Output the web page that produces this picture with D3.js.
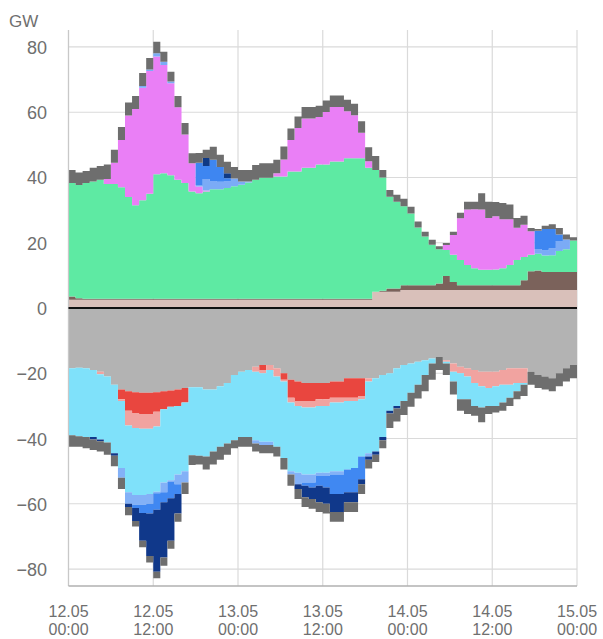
<!DOCTYPE html>
<html><head><meta charset="utf-8">
<script src="https://cdn.jsdelivr.net/npm/d3@7"></script>
<style>
html,body{margin:0;padding:0;background:#fff;}
svg{display:block;font-family:"Liberation Sans",Arial,Helvetica,sans-serif;}
</style></head>
<body>
<svg id="c" width="603" height="639"></svg>
<script>
// ---- data (GW, hourly, 12.05 00:00 .. 14.05 23:00) ----
const hours = d3.range(72);
const tickHours = [0, 12, 24, 36, 48, 60, 72];
const tickDates = ["12.05", "12.05", "13.05", "13.05", "14.05", "14.05", "15.05"];
const tickTimes = ["00:00", "12:00", "00:00", "12:00", "00:00", "12:00", "00:00"];
const yTicks = [-80, -60, -40, -20, 0, 20, 40, 60, 80];

// positive (generation) layers
const rose = [2.5,2.5,2.5,2.5,2.5,2.5,2.5,2.5,2.5,2.5,2.5,2.5,2.5,2.5,2.5,2.5,2.5,2.5,2.5,2.5,2.5,2.5,2.5,2.5,2.5,2.5,2.5,2.5,2.5,2.5,2.5,2.5,2.5,2.5,2.5,2.5,2.5,2.5,2.5,2.5,2.5,2.5,2.5,5,5,5,5,5.5,5.5,5.5,5.5,5.5,5.5,5.5,5.5,5.5,5.5,5.5,5.5,5.5,5.5,5.5,5.5,5.5,5.5,5.5,5.5,5.5,5.5,5.5,5.5,5.5];
const brown = [1,0.5,0.3,0.3,0.3,0.3,0.3,0.3,0.3,0.3,0.3,0.3,0.3,0.3,0.3,0.3,0.3,0.3,0.3,0.3,0.3,0.3,0.3,0.3,0.3,0.3,0.3,0.3,0.3,0.3,0.3,0.3,0.3,0.3,0.3,0.3,0.3,0.3,0.3,0.3,0.3,0.3,0.3,0,0.3,1,1,1.5,1.5,1.5,1.5,1.5,2,4.3,2.5,1.5,1.5,1.5,1.5,1.5,1.5,1.5,1.5,1.5,3,5.8,6,5.5,5.5,5.5,5.5,5.5];
const green = [34.8,34.7,35.5,36,36.5,35.2,35.2,34.2,31.2,28.7,30.2,32.2,38.2,38.5,37.9,36.5,35.5,32.9,32.4,32.9,33.6,33.6,34,34.5,35,35.7,36.5,37.1,37.1,37.5,37.5,39,39,40.2,40.2,41.2,41.2,42.1,42.1,43.1,43.1,43.1,40.2,37.3,34.7,28.1,26.6,24.2,22,17.7,14.9,12.4,10.5,8,8.3,7.7,6.2,5.2,4.7,4.7,4.8,5.2,6.2,7.7,7.1,5,5.1,5.1,5.2,6.5,7,9.7];
const solar = [0,0,0,0,0,1.5,6.5,14.5,25,29.5,34.5,37.6,36.1,33.2,28.2,22.2,14.9,8.7,2,0.3,0,0,0,0,0,0,0,0,0,1,5.2,9.7,13.4,15.1,15.1,14.5,16.1,16.7,16.7,14.4,13.2,7.8,2,0,0,0,0,0,0,0,0,0,0,1.5,6.1,12.8,17,18.1,18.5,15.9,16.3,15,14,9.9,9.9,7.2,0,0,0,0,0,0];
const lightBlueP = [0,0,0,0,0,0,0,0,0,0,0.5,0.5,1,1,0.5,0,0,0,0.5,3.5,2.5,2.3,2,2.4,1,0.3,0,0,0,0,0,0,0,0,0,0,0,0,0,0,0,0,0,0,0,0,0,0,0,0,0,0,0,0,0,0,0,0,0,0,0,0,0,0,0,0,1.5,1.5,2,3,3,0];
const blueP = [0,0,0,0,0,0,0,0,0,0,0,0,0,0,0,0,0,0,6.8,4,6.5,4.5,1,0,0,0,0,0,0,0,0,0,0,0,0,0,0,0,0,0,0,0,0,0,0,0,0,0,0,0,0,0,0,0,0,0,0,0,0,0,0,0,0,0,0,0,5.6,6.6,6,2,0,0];
const navyP = [0,0,0,0,0,0,0,0,0,0,0,0,0,0,0,0,0,0,0,2.5,0,0,1.5,0,0,0,0,0,0,0,0,0,0,0,0,0,0,0,0,0,0,0,0,0,0,0,0,0,0,0,0,0,0,0,0,0,0,0,0,0,0,0,0,0,0,0,0,0,0,0,0,0];
const otherP = [4,3.8,3.7,4.2,4.2,4.5,4,4,4,4,4,3.5,3.5,3,3,3.5,3.5,3,3,2.5,4,3.8,3.5,3.5,3.5,3.5,4.5,4.5,4.5,4.1,4,3.5,3.5,3.5,3.5,3.5,3.5,3.5,3.5,3.5,3.5,3.5,4.3,4.3,2.3,2.1,2.1,2.3,2,1.8,1.5,1.5,0.9,0.6,1,1.7,2.4,2.3,5,5,4.4,5,4.5,3,2.8,1,0.5,1,1.5,2,1.5,1];

// negative (consumption / export) layers, as magnitudes
const greyN = [18.5,18.3,18.5,19,19.5,21,23.5,25,25.5,25.8,26,26,25.8,25.5,25.3,25,24.5,24.3,24.3,25,25,24,23,20.5,19.5,19,18,17.5,17.5,18.5,20,22,22.5,23,23,23,23,22.5,22.5,21.5,21.5,21.5,21.5,21.5,20.5,20,18.5,17.5,17,16.5,16,15.5,15,16,17,18,18.5,19,19.5,19.5,19.5,19,18.5,18.5,18.5,19.5,20.5,21,21.5,20,18.5,17.5];
const redN = [0,0,0,0,0,0,0,3,6,6.5,6.5,6.5,6,5.5,5,5,4.5,0,0,0,0,0,0,0,0,0,0,1.5,0,0,2,5.5,6,5.5,5.5,5,5,5,5,6,6,5.5,0,0,0,0,0,0,0,0,0,0,0,0,0,0,0,0,0,0,0,0,0,0,0,0,0,0,0,0,0,0];
const pinkN = [0,0,0,0,0.8,0,0,0.5,4.5,4.5,4.5,4.5,4.5,0,0,0,0,0,0,0,0,0,0,0,0,0,1.5,1,1.5,2.5,0.5,1.5,1.5,2,2,2,2,1.5,1.5,1,1,1,1,0,0,0,0,0,0,0,0,0,0,0.5,2.5,2,2.5,4,4.5,5,4.5,4.5,5,4.5,4.5,0,0,0,0,0,0,0];
const cyanN = [20.5,21,21,20.5,20,20.2,21,20.5,20.5,20.5,20.3,20,20,22.5,22.5,21,21,20.8,21,20.5,19,18.5,18.5,20,20,20.5,21,21,22,21.5,23.5,21,20.5,20.5,20.5,20.5,20.5,21,21,21,20.5,17.5,22,22.5,19,11.5,11.5,11,9,7,4.5,1.5,0,0.5,3,8,7,7,6.5,5.5,6,5.5,4,2.5,0.5,0,0,0,0,0,0,0];
const lightBlueN = [0,0,0,0,0,0,0,3,3.5,3,3,3,0.5,3,0.5,3,3.5,0,0,0,0,0,0,0,0,0,1,1,1,0,0,1,3.5,2.5,2.5,1,1,1,1,0,0,0,1,0,0,0,0,0,0,0,0,0,0,0,0,0,0,0,0,0,0,0,0,0,0,0,0,0,0,0,0,0];
const blueN = [0,0,0,0,0,0,0,0,0,1,2.5,3,5,3,5,3,0,0,0,0,0,0,0,0,0,0,0,0,0,0,0,0,0,1,1.5,3,3.5,6,6,7,7.5,7,0,0,0,0,0,0,0,0,0,0,0,0,0,0,0,0,0,0,0,0,0,0,0,0,0,0,0,0,0,0];
const navyN = [0,0,0,0.8,0.5,0,0.8,0,1,4,8.5,13,19,17,13,6,0,0,0,0,0,0,0,0,0,0,0,0,0,0,0,0,1.5,3.5,3.5,5,5,5.5,5.5,3,3,1.5,1,1,1,0.8,0.8,0,0,0,0,0,0,0,0,0,0,0,0,0,0,0,0,0,0,0,0,0,0,0,0,0];
const otherN = [3.5,3.2,3.5,3.2,3.2,3.8,3.2,3.5,2.5,1.7,2,2,2,2.5,2.5,2.5,3.5,3,2.7,4,4,4,3.5,2.5,3,3,2.5,2.5,2.5,3,3.5,3.5,3,3,3,3,3,3,3,3,3,3,2.7,2.2,2.5,4.5,4,4.3,4.3,4.2,5,5,4,3.5,4,3.5,4.5,3,4.5,2.5,2,2.5,2.5,2.5,3.5,4,4,4,4,4,4,4];

const layers = [
  {key:"rose",  vals:rose,  sign:1,  color:"#d9c0ba"},
  {key:"brown", vals:brown, sign:1,  color:"#7b625b"},
  {key:"green", vals:green, sign:1,  color:"#5eeaa3"},
  {key:"solar", vals:solar, sign:1,  color:"#ea7ff6"},
  {key:"lbP",   vals:lightBlueP, sign:1, color:"#7babf6"},
  {key:"blueP", vals:blueP, sign:1,  color:"#3e86f1"},
  {key:"navyP", vals:navyP, sign:1,  color:"#0f3a85"},
  {key:"othP",  vals:otherP, sign:1, color:"#6e6e6e"},
  {key:"greyN", vals:greyN, sign:-1, color:"#b3b3b3"},
  {key:"redN",  vals:redN,  sign:-1, color:"#e9463f"},
  {key:"pinkN", vals:pinkN, sign:-1, color:"#f1a3a0"},
  {key:"cyanN", vals:cyanN, sign:-1, color:"#7fe1fa"},
  {key:"lbN",   vals:lightBlueN, sign:-1, color:"#83b1f7"},
  {key:"blueN", vals:blueN, sign:-1, color:"#4088f2"},
  {key:"navyN", vals:navyN, sign:-1, color:"#10388a"},
  {key:"othN",  vals:otherN, sign:-1, color:"#6e6e6e"}
];

// ---- layout ----
const svg = d3.select("#c");
const x = d3.scaleLinear().domain([0, 72]).range([68.5, 577]);
const y = d3.scaleLinear().domain([-85.2, 85.2]).range([586, 30]);
const textColor = "#6f6f6f";

// rows (extra final row repeats the last hour so the last step is drawn)
const idx = hours.concat([72]);
const rows = idx.map(h => {
  const i = Math.min(h, 71);
  const r = {h};
  layers.forEach(l => r[l.key] = l.sign * l.vals[i]);
  return r;
});
const stack = d3.stack().keys(layers.map(l => l.key)).offset(d3.stackOffsetDiverging);
const series = stack(rows);

// grid
const grid = svg.append("g");
grid.selectAll("line.h").data(yTicks).join("line")
  .attr("x1", x(0)).attr("x2", x(72))
  .attr("y1", d => y(d)).attr("y2", d => y(d))
  .attr("stroke", "#dadada").attr("stroke-width", 1.2);
grid.selectAll("line.v").data(tickHours).join("line")
  .attr("x1", d => x(d)).attr("x2", d => x(d))
  .attr("y1", 30).attr("y2", y(-85.2))
  .attr("stroke", "#dadada").attr("stroke-width", 1.2);

// areas
const area = d3.area()
  .x(d => x(d.data.h))
  .y0(d => y(d[0])).y1(d => y(d[1]))
  .curve(d3.curveStepAfter);
svg.append("g").selectAll("path").data(series).join("path")
  .attr("d", area)
  .attr("fill", (d, i) => layers[i].color);

// axes lines
svg.append("line").attr("x1", x(0)).attr("x2", x(0)).attr("y1", 30).attr("y2", y(-85.2))
  .attr("stroke", "#c8c8c8").attr("stroke-width", 1.2);
svg.append("line").attr("x1", x(0)).attr("x2", x(72)).attr("y1", y(-85.2)).attr("y2", y(-85.2))
  .attr("stroke", "#b0b0b0").attr("stroke-width", 1.5);
svg.append("line").attr("x1", x(0)).attr("x2", x(72)).attr("y1", y(0)).attr("y2", y(0))
  .attr("stroke", "#111").attr("stroke-width", 2.2);

// y labels
const yAxis = d3.axisLeft(y).tickValues(yTicks).tickSize(0).tickPadding(0)
  .tickFormat(d => d < 0 ? "\u2212" + Math.abs(d) : String(d));
const ga = svg.append("g").attr("transform", "translate(47,0)").call(yAxis);
ga.select(".domain").remove();
ga.selectAll("text").attr("fill", textColor).style("font-size", "18px")
  .attr("dy", "0.36em").attr("font-family", "Liberation Sans, Arial, sans-serif");

svg.append("text").attr("x", 9).attr("y", 27).attr("fill", textColor)
  .style("font-size", "17px").text("GW");

// x labels
const xl = svg.append("g").selectAll("g").data(tickHours).join("g")
  .attr("transform", d => `translate(${x(d)},0)`);
xl.append("text").attr("y", 617).attr("text-anchor", "middle").attr("fill", textColor)
  .style("font-size", "16px").text((d, i) => tickDates[i]);
xl.append("text").attr("y", 635).attr("text-anchor", "middle").attr("fill", textColor)
  .style("font-size", "16px").text((d, i) => tickTimes[i]);
</script>
</body></html>
